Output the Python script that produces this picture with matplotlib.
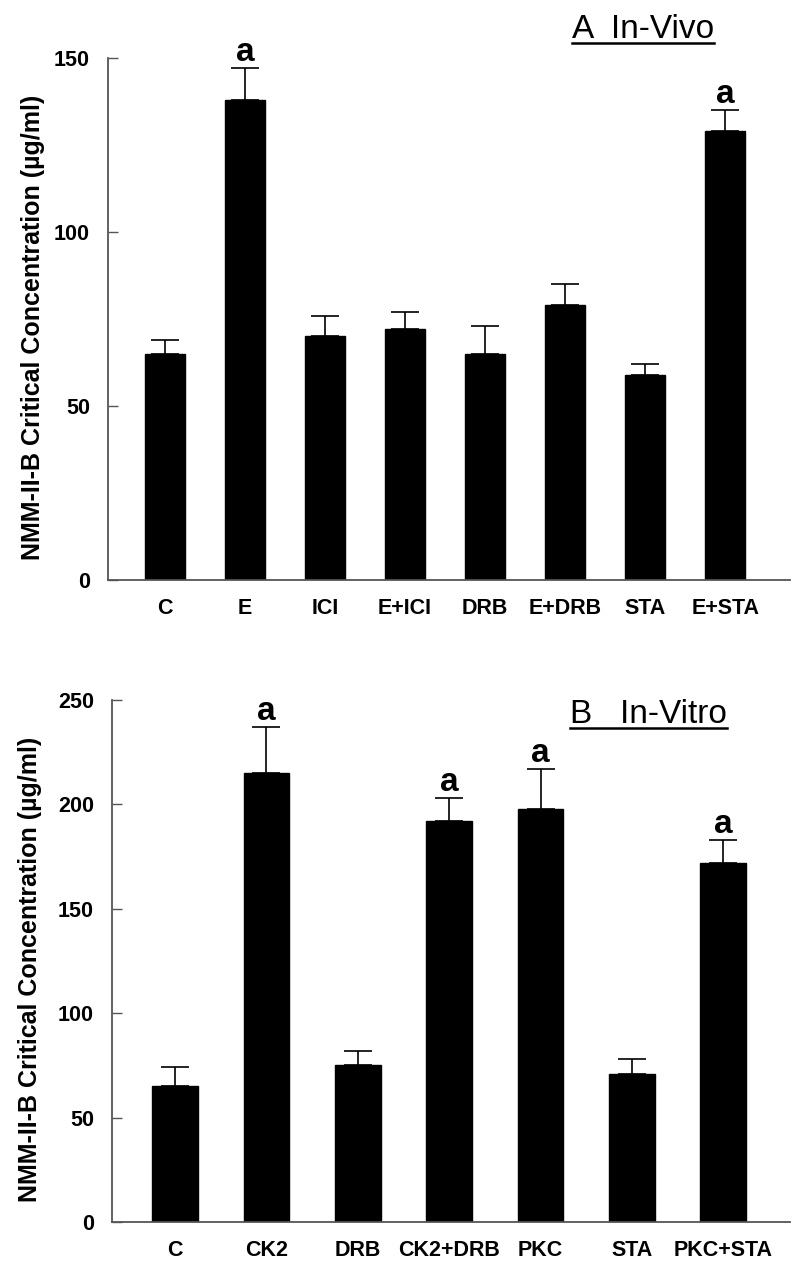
import matplotlib
matplotlib.use("Agg")
import matplotlib.pyplot as plt
from matplotlib.lines import Line2D

plt.rcParams['font.family'] = ['Liberation Sans', 'DejaVu Sans']

# A - in vivo
vivo_labels = ["C", "E", "ICI", "E+ICI", "DRB", "E+DRB", "STA", "E+STA"]
vivo_mean = [65, 138, 70, 72, 65, 79, 59, 129]
vivo_err = [4, 9, 6, 5, 8, 6, 3, 6]
vivo_sig = ["", "a", "", "", "", "", "", "a"]

# B - in vitro
vitro_labels = ["C", "CK2", "DRB", "CK2+DRB", "PKC", "STA", "PKC+STA"]
vitro_mean = [65, 215, 75, 192, 198, 71, 172]
vitro_err = [9, 22, 7, 11, 19, 7, 11]
vitro_sig = ["", "a", "", "a", "a", "", "a"]

ylabel = "NMM-II-B Critical Concentration (\u00b5g/ml)"

fig = plt.figure(figsize=(8, 12.68), dpi=100)
W, H = 800, 1268


def px_axes(left, top, right, bottom):
    return fig.add_axes([left / W, 1 - bottom / H, (right - left) / W, (bottom - top) / H])


def draw_panel(ax, labels, mean, err, sig, ymax, xlim, lab_x):
    x = range(len(labels))
    ax.bar(x, mean, width=0.5, color="black", edgecolor="black", zorder=2)
    ax.errorbar(x, mean, yerr=[[0] * len(err), err], fmt="none", ecolor="black",
                elinewidth=1.2, capsize=10, capthick=1.2, zorder=1)
    for i, s in enumerate(sig):
        if s:
            ax.annotate(s, (i, mean[i] + err[i]), xytext=(0, 5), textcoords="offset points",
                        ha="center", va="baseline", fontsize=24, fontweight="bold")
    ax.set_xlim(*xlim)
    ax.set_ylim(0, ymax)
    ax.set_yticks(range(0, ymax + 1, 50))
    ax.set_xticks(list(x))
    ax.set_xticklabels(labels)
    for s in ["top", "right"]:
        ax.spines[s].set_visible(False)
    for s in ["left", "bottom"]:
        ax.spines[s].set_color("#555555")
        ax.spines[s].set_linewidth(1.3)
    ax.tick_params(axis="x", length=0, pad=13, labelsize=15.5)
    ax.tick_params(axis="y", direction="in", length=7, width=1, color="#555555",
                   pad=13, labelsize=15.5)
    for t in ax.get_xticklabels() + ax.get_yticklabels():
        t.set_fontweight("bold")
    ax.set_ylabel(ylabel, fontsize=18, fontweight="bold", va="center")
    ax.yaxis.set_label_coords(lab_x, 0.484)
    ax.patch.set_visible(False)


ax1 = px_axes(108, 58, 790, 580)
draw_panel(ax1, vivo_labels, vivo_mean, vivo_err, vivo_sig, 150, (-0.71, 7.81), -0.11)

ax2 = px_axes(112, 700, 790, 1222)
draw_panel(ax2, vitro_labels, vitro_mean, vitro_err, vitro_sig, 250, (-0.69, 6.73), -0.121)

t1 = fig.text(572 / W, 1 - 38 / H, "A  In-Vivo", fontsize=24, ha="left", va="baseline")
t2 = fig.text(570 / W, 1 - 723 / H, "B   In-Vitro", fontsize=24, ha="left", va="baseline")

fig.canvas.draw()
r = fig.canvas.get_renderer()
for t in (t1, t2):
    bb = t.get_window_extent(r)
    y0 = t.get_position()[1] - 4.5 / H
    fig.add_artist(Line2D([bb.x0 / W, bb.x1 / W], [y0, y0], color="black", lw=1.8,
                          transform=fig.transFigure))

fig.savefig("out.png", dpi=100, facecolor="white")
